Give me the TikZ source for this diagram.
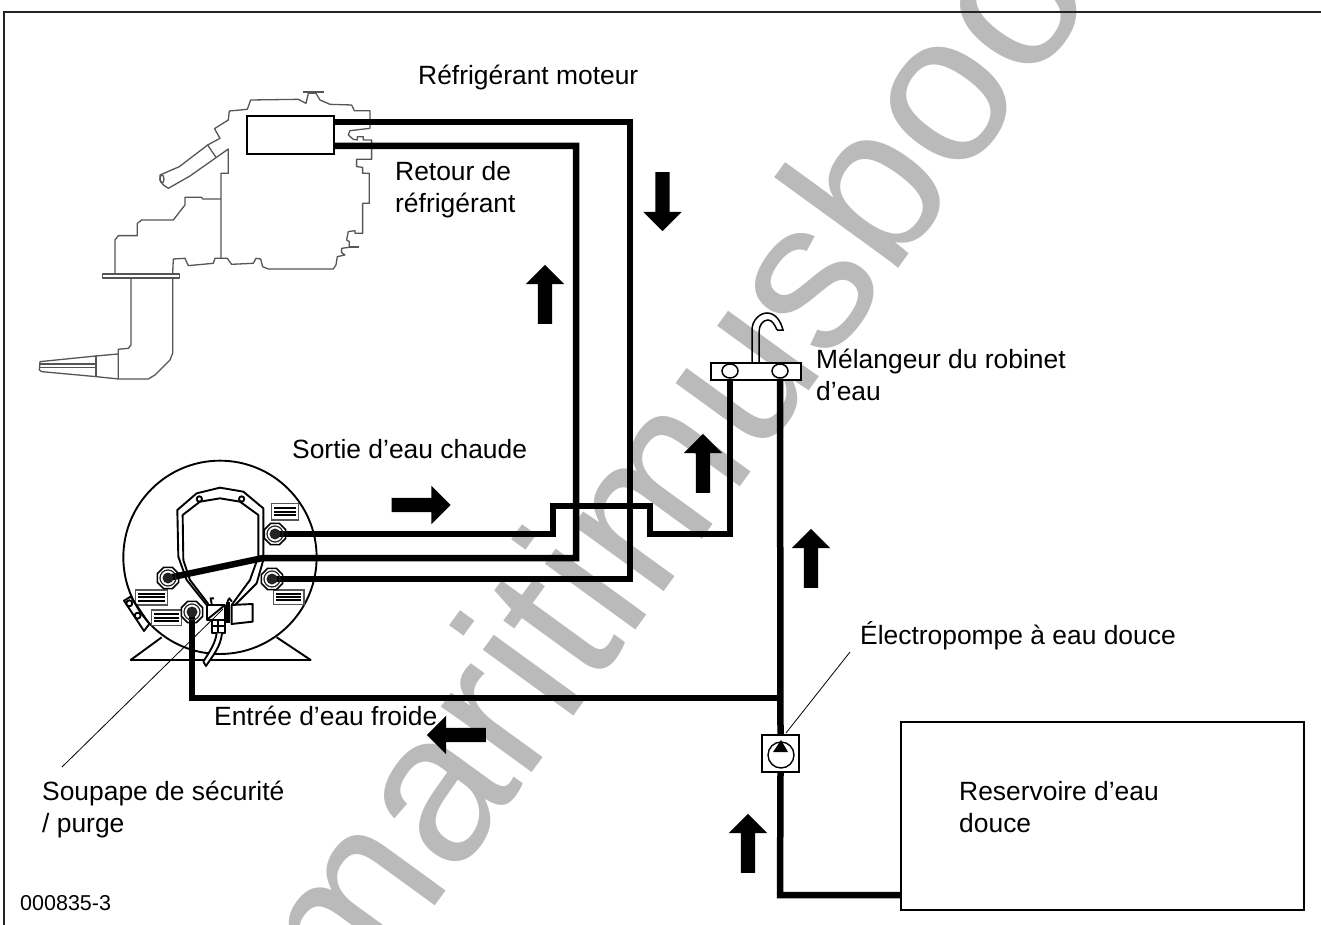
\documentclass[tikz,border=0pt]{standalone}
\usepackage{fontspec}
\setmainfont{Liberation Sans}
\usetikzlibrary{arrows.meta, positioning, shapes.geometric, shapes.arrows, calc}
\definecolor{WM}{RGB}{186,186,186}
\definecolor{EG}{RGB}{85,85,85}
\definecolor{DG}{RGB}{35,35,35}
\begin{document}
\begin{tikzpicture}[x=1pt, y=-1pt,
  pipe/.style={line width=6.5pt, line join=miter},
  lbl/.style={font=\fontsize{26.4}{32}\selectfont, inner sep=0pt, align=left, anchor=base west},
  lblup/.style={font=\fontsize{26.4}{32}\selectfont, inner sep=0pt, align=left, anchor=north west},
  flow/.style={single arrow, fill=black, inner sep=7pt, minimum height=59pt,
               single arrow head extend=12pt, single arrow head indent=0pt},
  fitting/.style={regular polygon, regular polygon sides=8, draw, line width=1.5pt, fill=white,
                  minimum size=23pt, inner sep=0pt},
  eng/.style={draw=EG, line width=1.3pt, line join=round},
  tank/.style={line width=1.9pt, line join=round},
  leader/.style={line width=0.8pt}
]
\useasboundingbox (0,0) rectangle (1321,925);

\begin{scope}
\clip (0,0) rectangle (1321,925);
\node[font=\fontsize{212}{212}\selectfont, text=WM, rotate=54, anchor=base west, inner sep=0pt] (mark) at (350.5,1023) {maritimusboo};
\end{scope}

\draw[line width=1.5pt, draw=DG] (4,925) -- (4,12) -- (1321,12);

\begin{scope}[shift={(20,70)}, x=0.3333pt, y=-0.3333pt]
\draw[eng] (585,175) -- (625,150) -- (628,123) -- (682,118) -- (692,90) -- (835,88) -- (858,100) -- (865,70)
  -- (888,70) -- (900,90) -- (930,103) -- (995,105) -- (1003,122) -- (1050,122) -- (1050,175) -- (990,182)
  -- (985,195) -- (1000,208) -- (1012,210) -- (1012,200) -- (1030,200) -- (1030,210) -- (1055,210) -- (1055,268)
  -- (1010,268) -- (1010,290) -- (1028,292) -- (1028,310) -- (1048,310) -- (1048,400) -- (1028,400) -- (1028,490)
  -- (1005,490) -- (1005,482) -- (985,485) -- (980,510) -- (988,515) -- (988,532) -- (965,535) -- (965,548)
  -- (975,555) -- (952,560) -- (948,585) -- (940,597) -- (745,597) -- (728,590) -- (722,567) -- (708,565)
  -- (700,580) -- (635,583) -- (622,565) -- (585,565) -- (580,580) -- (505,587) -- (495,565) -- (460,567) -- (458,612);
\draw[eng, line width=2pt] (848,65) -- (912,65);
\draw[eng, line width=2pt] (988,532) -- (1018,532);
\draw[eng] (248,612) rectangle (478,624);
\draw[eng] (285,612) -- (285,510) -- (295,497) -- (352,497) -- (352,460) -- (365,450) -- (460,450) -- (495,405)
  -- (495,382) -- (545,382) -- (548,387) -- (603,387);
\draw[eng] (603,565) -- (603,310) -- (625,310) -- (625,237) -- (510,318) -- (445,355) -- (430,345) -- (420,330)
  -- (420,315) -- (478,290) -- (563,225) -- (600,205) -- (583,175);
\draw[eng] (563,225) -- (588,262);
\draw[eng] (426,327) ellipse (6 and 12);
\draw[eng] (333,624) -- (333,825) -- (325,835) -- (295,838) -- (295,927);
\draw[eng] (458,624) -- (458,850) -- (450,870) -- (405,915) -- (385,927) -- (295,927);
\draw[eng] (295,852) -- (228,858) -- (60,875) -- (58,900) -- (65,905) -- (228,920) -- (295,927);
\draw[eng] (228,858) -- (228,920);
\draw[eng] (60,882) -- (228,882) (60,892) -- (228,892);
\end{scope}

\begin{scope}[shift={(100,450)}, x=0.3333pt, y=-0.3333pt]
\draw[tank, fill=white] (185,562) -- (92,630) -- (632,630) -- (530,562);
\draw[tank, fill=white] (360,322) circle (290);
\draw[tank] (320,465) -- (260,390) -- (235,320) -- (232,180) -- (290,130) -- (360,113) -- (430,125) -- (490,175)
  -- (490,330) -- (470,400) -- (400,470);
\draw[tank] (325,462) -- (270,390) -- (250,330) -- (248,195) -- (300,155) -- (360,145) -- (420,155) -- (475,195)
  -- (475,320) -- (450,390) -- (395,465);
\draw[tank] (298,147) circle (8) (425,147) circle (8);
\foreach \px/\py/\pw/\ph in {515/160/80/50, 107/420/96/45, 155/480/90/47, 520/420/92/43}{
  \draw[line width=1.2pt, draw=EG, fill=white] (\px,\py) rectangle ++(\pw,\ph);
  \foreach \dy in {0.28,0.5,0.72}{
    \draw[line width=2pt] ($(\px,\py)+(8,\dy*\ph)$) -- ++(\pw-16,0);
  }
}
\draw[tank, fill=white] (320,465) rectangle (375,510);
\draw[tank] (320,510) -- (375,465);
\draw[tank] (335,510) rectangle (375,548) (355,510) -- (355,548) (335,528) -- (375,528);
\draw[tank, fill=white] (395,465) -- (458,462) -- (458,515) -- (395,522) -- cycle;
\draw[line width=4pt] (385,455) -- (385,520);
\draw[tank] (335,462) -- (332,445) -- (342,445) (382,455) -- (388,445) -- (396,455);
\draw[tank, fill=white] (350,550) .. controls (345,585) and (325,610) .. (310,635) -- (318,648)
  .. controls (340,615) and (362,590) .. (366,550);
\draw[tank] (72,452) -- (92,440) -- (148,522) -- (132,543) -- cycle;
\draw[tank, fill=white] (88,460) circle (9) (113,497) circle (9);
\end{scope}

\node[draw, line width=1.8pt, fill=white, minimum width=87pt, minimum height=38pt, inner sep=0pt] (cooler) at (290.5,135) {};
\node[draw, line width=1.4pt, fill=white, minimum width=403pt, minimum height=188pt, inner sep=0pt] (resvr) at (1102.5,816) {};
\node[draw, line width=1.5pt, fill=white, minimum width=90pt, minimum height=17pt, inner sep=0pt] (mixer) at (756,371.5) {};
\node[draw, ellipse, line width=1.5pt, minimum width=16pt, minimum height=14pt, inner sep=0pt] (mixL) at (730,371) {};
\node[draw, ellipse, line width=1.5pt, minimum width=16pt, minimum height=14pt, inner sep=0pt] (mixR) at (780,371) {};
\node[draw, line width=1.5pt, fill=white, minimum width=37pt, minimum height=37pt, inner sep=0pt] (pump) at (780.5,753.5) {};
\node[fitting] (fitHot) at (275,534) {};
\node[fitting] (fitReturn) at (168,578) {};
\node[fitting] (fitEngine) at (272,579) {};
\node[fitting] (fitCold) at (192,612) {};

\draw[line width=1.5pt] (752,363) -- (752,330) .. controls (752,320) and (760,313) .. (767,313)
  .. controls (776,313) and (781,322) .. (783,330) -- (777,330);
\draw[line width=1.5pt] (759,363) -- (759,332) .. controls (759,325) and (763,320) .. (768,320)
  .. controls (772,320) and (775,325) .. (777,330);

\draw[pipe] (334,122) -- (630,122) -- (630,579) -- (fitEngine.center);
\draw[pipe] (334,146) -- (576,146) -- (576,558) -- (263,558) -- (fitReturn.center);
\draw[pipe] (fitHot.center) -- (553,534) -- (553,506) -- (650,506) -- (650,534) -- (730,534) -- (mixL.south);
\draw[pipe] (mixR.south) -- (pump.north);
\draw[pipe] (pump.south) -- (780,895) -- (resvr.west |- 780,895);
\coordinate (tee) at (780,698);
\draw[pipe] (tee) -- (192,698) -- (fitCold.center);

\foreach \fit in {fitHot, fitReturn, fitEngine, fitCold}{
  \draw[DG, line width=1.2pt] (\fit.center) circle (8);
  \fill[DG] (\fit.center) circle (5.5);
}

\draw[line width=1.4pt] (781,755) circle (13);
\fill (781,740) -- (788,752) -- (773,752) -- cycle;

\coordinate (pumpTag) at (850,652);
\coordinate (valveTag) at (62,767);
\coordinate (valveEnd) at (223,609);
\draw[leader] (786,733) -- (pumpTag);
\draw[leader] (valveEnd) -- (valveTag);

\node[flow, rotate=-90] (a1) at (662.5,198) {};
\node[flow, rotate=90]  (a2) at (545,298) {};
\node[flow]             (a3) at (417.5,505) {};
\node[flow, rotate=90]  (a4) at (703,467) {};
\node[flow, rotate=90]  (a5) at (811,562) {};
\node[flow, rotate=180] (a6) at (460,735) {};
\node[flow, rotate=90]  (a7) at (748,847) {};

\node[lbl] (t1) at (418,85) {Réfrigérant moteur};
\node[lblup] (t2) at (395,161) {Retour de\\réfrigérant};
\node[lbl] (t3) at (292,458) {Sortie d’eau chaude};
\node[lblup] (t4) at (816,349) {Mélangeur du robinet\\d’eau};
\node[lbl] (t5) at (860,644) {Électropompe à eau douce};
\node[lbl] (t6) at (214,725) {Entrée d’eau froide};
\node[lblup] (t7) at (42,781) {Soupape de sécurité\\/ purge};
\node[lblup] (t8) at (959,781) {Reservoire d’eau\\douce};
\node[lbl, font=\fontsize{21.5}{26}\selectfont] (t9) at (20,910) {000835-3};
\end{tikzpicture}
\end{document}
